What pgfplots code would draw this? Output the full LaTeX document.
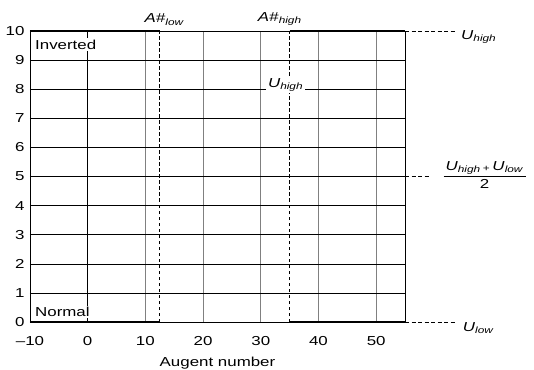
\documentclass[border=0pt]{standalone}
\usepackage{pgfplots}
\pgfplotsset{compat=1.18}
\usepackage{fontspec}
\setmainfont{Liberation Sans}[FakeStretch=1.3]
\newcommand{\fs}{\fontsize{13bp}{15bp}\selectfont}
\begin{document}
\begin{tikzpicture}
\useasboundingbox (-30bp,-48bp) rectangle (504bp,322bp);
\begin{axis}[
  at={(0,0)}, anchor=south west,
  scale only axis, width=375bp, height=291bp,
  xmin=-10, xmax=55, ymin=0, ymax=10,
  xtick={-10,0,10,20,30,40,50},
  xticklabels={–10,0,10,20,30,40,50},
  ytick={0,1,...,10},
  /pgf/number format/assume math mode=true,
  major tick length=0pt,
  tick label style={font=\fs},
  xticklabel style={yshift=-11bp},
  yticklabel style={xshift=-2bp},
  xlabel={Augent number},
  xlabel style={font=\fs, yshift=-4.5bp},
  ymajorgrids, xmajorgrids,
  y grid style={black, line width=0.6pt},
  x grid style={gray, line width=0.8pt},
  axis line style={black, line width=0.6pt},
  clip=false,
]
% black x=0 gridline
\addplot[black, line width=0.6pt] coordinates {(0,0) (0,10)};
% step states
\addplot[black, line width=1.6pt] coordinates {(-10,10) (12.5,10)};
\addplot[black, line width=1.6pt] coordinates {(-10,0) (12.5,0)};
\addplot[black, line width=1.6pt] coordinates {(12.5,5) (35,5)};
\addplot[black, line width=1.6pt] coordinates {(35,10) (55,10)};
\addplot[black, line width=1.6pt] coordinates {(35,0) (55,0)};
% dashed thresholds
\addplot[black, line width=1.1pt, dash pattern=on 3.5bp off 2.5bp] coordinates {(12.5,0) (12.5,10)};
\addplot[black, line width=1.1pt, dash pattern=on 3.5bp off 2.5bp] coordinates {(35,0) (35,10)};
% right dashed extensions
\addplot[black, line width=0.9pt, dash pattern=on 4bp off 2.5bp] coordinates {(55,10) (63.6,10)};
\addplot[black, line width=0.9pt, dash pattern=on 4bp off 2.5bp] coordinates {(55,5) (59.3,5)};
\addplot[black, line width=0.9pt, dash pattern=on 4bp off 2.5bp] coordinates {(55,0) (63.6,0)};
% labels
\node[fill=white, inner sep=2bp, font=\fs] at (axis cs:34.3,8.15) {\textit{U}\textsubscript{\textit{high}}};
\node[fill=white, anchor=north west, inner sep=1.5bp, font=\fs] at (axis cs:-9.4,9.75) {Inverted};
\node[fill=white, anchor=south west, inner sep=1.5bp, font=\fs] at (axis cs:-9.4,0.12) {Normal};
\node[anchor=south, inner sep=1bp, font=\fs] at (axis cs:13.3,10.15) {\textit{A\#}\textsubscript{\textit{low}}};
\node[anchor=south, inner sep=1bp, font=\fs] at (axis cs:33.3,10.15) {\textit{A\#}\textsubscript{\textit{high}}};
\node[anchor=west, inner sep=0pt, font=\fs] at (axis cs:64.7,9.8) {\textit{U}\textsubscript{\textit{high}}};
\node[anchor=west, inner sep=0pt, font=\fs] at (axis cs:65.0,-0.2) {\textit{U}\textsubscript{\textit{low}}};
\node[inner sep=0pt, font=\fs] at (axis cs:68.8,5) {%
  \begin{tabular}{@{\hspace{2bp}}c@{\hspace{2bp}}}
  \textit{U}\textsubscript{\textit{high}}\,\textsubscript{+}\,\textit{U}\textsubscript{\textit{low}}\\[1bp]
  \hline
  \rule{0pt}{13bp}2
  \end{tabular}};
\end{axis}
\end{tikzpicture}
\end{document}
